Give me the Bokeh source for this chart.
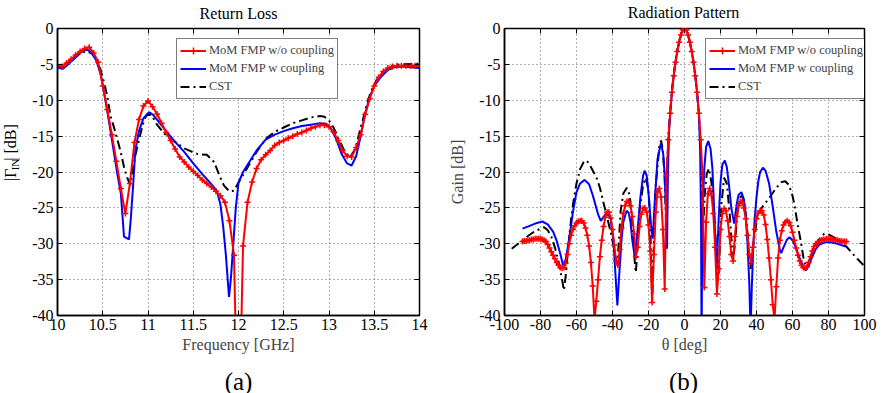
import math
from bokeh.plotting import figure
from bokeh.models import Legend, LegendItem, FixedTicker, Range1d, LinearAxis
from bokeh.core.properties import value
from bokeh.layouts import row, column
from bokeh.embed import file_html
from bokeh.resources import INLINE

FONT = "Liberation Serif"

# ---------------- (a) Return Loss ----------------
rl_x_ticks = [10, 10.5, 11, 11.5, 12, 12.5, 13, 13.5, 14]
rl_x_labels = ["10", "10.5", "11", "11.5", "12", "12.5", "13", "13.5", "14"]
db_ticks = [-40, -35, -30, -25, -20, -15, -10, -5, 0]
db_labels = ["-40", "-35", "-30", "-25", "-20", "-15", "-10", "-5", "0"]

rl_freq_red = [10.00, 10.05, 10.10, 10.15, 10.20, 10.25, 10.30, 10.35, 10.40, 10.45,
               10.50, 10.55, 10.60, 10.65, 10.70, 10.75, 10.80, 10.85, 10.90, 10.95,
               11.00, 11.05, 11.10, 11.15, 11.20, 11.25, 11.30, 11.35, 11.40, 11.45,
               11.50, 11.55, 11.60, 11.65, 11.70, 11.75, 11.80, 11.85, 11.90, 11.95,
               12.00, 12.05, 12.10, 12.15, 12.20, 12.25, 12.30, 12.35, 12.40, 12.45,
               12.50, 12.55, 12.60, 12.65, 12.70, 12.75, 12.80, 12.85, 12.90, 12.95,
               13.00, 13.05, 13.10, 13.15, 13.20, 13.25, 13.30, 13.35, 13.40, 13.45,
               13.50, 13.55, 13.60, 13.65, 13.70, 13.75, 13.80, 13.85, 13.90, 13.95,
               14.00]
rl_red = [-5.2, -5.3, -4.8, -4.3, -3.7, -3.2, -2.8, -2.6, -3.4, -4.7,
          -8.0, -11.3, -14.8, -18.5, -22.3, -25.8, -21.6, -15.9, -12.7, -10.8,
          -10.1, -10.9, -11.9, -13.2, -14.5, -15.6, -16.8, -17.9, -18.6, -19.3,
          -19.9, -20.5, -21.1, -21.6, -22.1, -22.7, -23.3, -24.2, -26.8, -31.6,
          -60.0, -30.3, -24.2, -21.4, -19.5, -18.3, -17.6, -17.0, -16.3, -15.9,
          -15.6, -15.3, -15.0, -14.7, -14.5, -14.2, -13.9, -13.7, -13.5, -13.5,
          -13.7, -14.4, -15.6, -17.0, -17.8, -17.9, -16.6, -14.8, -12.0, -9.8,
          -8.0, -6.8, -6.0, -5.5, -5.3, -5.2, -5.2, -5.2, -5.2, -5.2,
          -5.2]

rl_freq_blue = [10.00, 10.05, 10.10, 10.15, 10.20, 10.25, 10.30, 10.33, 10.38, 10.43,
                10.48, 10.53, 10.58, 10.63, 10.66, 10.70, 10.735, 10.79, 10.81, 10.835,
                10.86, 10.90, 10.95, 11.00, 11.02, 11.06, 11.10, 11.20, 11.30, 11.40,
                11.50, 11.60, 11.70, 11.76, 11.80, 11.83, 11.86, 11.895, 11.915, 11.94,
                11.97, 12.00, 12.05, 12.10, 12.20, 12.30, 12.40, 12.50, 12.60, 12.70,
                12.80, 12.90, 12.97, 13.02, 13.08, 13.14, 13.20, 13.25, 13.30, 13.35,
                13.40, 13.45, 13.50, 13.57, 13.65, 13.72, 13.80, 14.00]
rl_blue = [-5.4, -5.6, -5.2, -4.6, -4.0, -3.4, -3.0, -2.95, -3.4, -4.5,
           -6.5, -10.0, -13.8, -17.8, -20.2, -23.0, -29.0, -29.4, -26.5, -22.0,
           -17.0, -14.3, -12.5, -11.8, -11.7, -12.1, -12.7, -14.3, -15.8, -17.2,
           -18.8, -20.3, -21.7, -22.6, -24.5, -27.5, -31.5, -37.4, -35.0, -30.5,
           -25.0, -21.5, -20.0, -19.0, -17.0, -15.5, -14.8, -14.3, -13.9, -13.6,
           -13.4, -13.2, -13.3, -13.9, -15.4, -17.5, -18.8, -19.1, -17.8, -15.0,
           -11.8, -9.6, -8.0, -6.8, -5.8, -5.4, -5.3, -5.5]

rl_freq_cst = [10.00, 10.06, 10.15, 10.20, 10.25, 10.32, 10.38, 10.43, 10.475, 10.52,
               10.55, 10.585, 10.62, 10.66, 10.70, 10.74, 10.77, 10.805, 10.835, 10.86,
               10.92, 10.96, 11.00, 11.04, 11.10, 11.175, 11.25, 11.32, 11.40, 11.47,
               11.55, 11.65, 11.73, 11.80, 11.84, 11.90, 11.95, 12.02, 12.08, 12.13,
               12.20, 12.30, 12.40, 12.50, 12.60, 12.70, 12.80, 12.90, 12.95, 13.00,
               13.05, 13.10, 13.16, 13.23, 13.28, 13.31, 13.35, 13.385, 13.42, 13.46,
               13.52, 13.57, 13.65, 13.72, 13.80, 14.00]
rl_cst = [-5.3, -5.6, -4.6, -4.0, -3.5, -3.15, -3.5, -4.3, -5.7, -7.8,
          -9.4, -12.2, -13.6, -15.4, -17.3, -19.6, -20.8, -21.8, -19.5, -17.7,
          -14.5, -12.6, -11.9, -12.1, -13.4, -14.6, -15.4, -16.0, -16.7, -17.1,
          -17.5, -17.6, -18.6, -20.8, -21.9, -22.7, -22.6, -21.0, -19.8, -18.7,
          -17.2, -15.4, -14.4, -13.8, -13.2, -12.8, -12.4, -12.2, -12.3, -12.8,
          -13.8, -15.2, -16.8, -18.0, -17.0, -15.9, -13.8, -12.2, -10.5, -8.9,
          -7.3, -6.4, -5.6, -5.1, -5.0, -4.9]

# ---------------- (b) Radiation Pattern ----------------
rp_x_ticks = [-100, -80, -60, -40, -20, 0, 20, 40, 60, 80, 100]
rp_x_labels = ["-100", "-80", "-60", "-40", "-20", "0", "20", "40", "60", "80", "100"]

rp_theta_red = list(range(-90, 91))  # 1 degree sampling of the plotted points
rp_red = [-29.7, -29.6, -29.6, -29.5, -29.5, -29.4, -29.4, -29.3, -29.3, -29.3,   # -90..-81
          -29.3, -29.4, -29.5, -29.7, -30.1, -30.6, -31.1, -31.6, -32.1, -32.6,   # -80..-71
          -33.0, -33.3, -33.4, -33.3, -32.7, -31.5, -30.0, -28.8, -28.0, -27.5,   # -70..-61
          -27.1, -26.9, -26.8, -26.8, -27.1, -27.8, -28.8, -30.3, -32.6, -35.9,   # -60..-51
          -40.5, -38.0, -35.0, -31.8, -29.5, -27.6, -26.3, -25.6, -25.6, -26.4,   # -50..-41
          -28.0, -30.2, -32.4, -33.0, -30.8, -27.8, -25.8, -24.7, -24.1, -24.1,   # -40..-31
          -24.7, -26.2, -28.6, -31.8, -30.5, -27.6, -25.9, -25.1, -25.0, -25.6,   # -30..-21
          -27.4, -31.0, -38.2, -31.5, -25.6, -22.8, -22.3, -23.5, -28.0, -36.3,   # -20..-11
          -20.5, -15.5, -11.8, -8.9, -6.6, -4.7, -3.2, -1.9, -0.9, -0.2,          # -10..-1
          0.0,                                                                     # 0
          -0.2, -0.9, -1.9, -3.2, -4.7, -6.6, -8.9, -11.8, -15.5, -20.5,          # 1..10
          -36.1, -27.0, -23.0, -22.3, -23.2, -25.8, -30.5, -37.0, -33.5, -28.0,   # 11..20
          -25.8, -25.1, -25.4, -26.8, -29.0, -31.5, -32.4, -29.0, -26.2, -24.7,   # 21..30
          -24.1, -24.2, -25.0, -26.5, -28.8, -31.5, -32.6, -30.5, -28.0, -26.5,   # 31..40
          -25.7, -25.4, -25.4, -26.0, -27.3, -29.4, -32.0, -35.0, -38.5, -40.5,   # 41..50
          -36.0, -32.0, -29.5, -28.2, -27.4, -27.0, -26.8, -27.0, -27.5, -28.4,   # 51..60
          -29.5, -30.6, -31.6, -32.4, -33.0, -33.3, -33.4, -33.2, -32.6, -31.8,   # 61..70
          -31.0, -30.4, -30.0, -29.8, -29.6, -29.5, -29.4, -29.4, -29.3, -29.3,   # 71..80
          -29.3, -29.4, -29.4, -29.5, -29.5, -29.6, -29.6, -29.7, -29.7, -29.7]   # 81..90

rp_theta_blue = [-90, -86, -82, -79, -76, -73, -71, -69, -67.5, -66,
                 -64, -62, -60, -58, -55.5, -53, -51, -49, -48, -46.5,
                 -45, -43, -41, -39.5, -38.3, -37.3, -36.3, -35, -34, -32.2,
                 -31, -30, -29, -27.6, -26, -24.5, -23, -22.1, -21, -19.8,
                 -18.6, -17.7, -16.5, -15, -13.1, -11.8, -11, -10.3, -9.7, -9.2,
                 -8.5, -8, -7, -6, -5, -4, -3, -2, -1, 0,
                 1, 2, 3, 4, 5, 6, 7, 8, 8.7, 9.2,
                 9.5, 9.8, 10.3, 11, 12, 13.2, 14.5, 15.5, 16.5, 17.8,
                 19, 20, 21, 22.4, 23.5, 24.8, 26, 27.6, 29, 30,
                 31.6, 33, 34, 35, 36, 36.7, 37.4, 38.2, 39, 40,
                 41, 42, 43.6, 45, 47, 49, 51, 53, 53.7, 55,
                 57, 58.3, 60, 62, 64, 66, 67.5, 69, 71, 73,
                 75, 78, 81, 85, 89.5]
rp_blue = [-27.9, -27.5, -27.1, -26.9, -27.3, -28.3, -29.6, -31.4, -33.0, -32.2,
           -29.3, -25.6, -22.8, -21.6, -21.1, -21.7, -23.2, -25.0, -25.9, -26.8,
           -26.3, -25.5, -26.6, -29.5, -34.5, -38.6, -34.5, -29.5, -27.0, -25.4,
           -25.7, -27.0, -29.5, -31.9, -28.0, -23.5, -20.5, -19.8, -20.5, -23.5,
           -27.5, -29.3, -24.0, -18.2, -16.0, -17.5, -20.5, -25.5, -30.7, -20.0,
           -14.0, -12.2, -8.9, -6.6, -4.7, -3.2, -1.9, -0.9, -0.2, 0.0,
           -0.2, -0.9, -1.9, -3.2, -4.7, -6.6, -8.9, -12.0, -17.0, -27.0,
           -45.0, -30.0, -24.0, -19.5, -16.5, -15.7, -16.8, -19.5, -25.5, -33.7,
           -26.5, -21.5, -19.0, -18.4, -19.3, -22.0, -25.0, -27.2, -24.5, -23.2,
           -22.8, -23.8, -26.0, -30.0, -35.5, -42.0, -36.0, -30.5, -26.5, -23.5,
           -21.3, -20.0, -19.4, -19.8, -21.6, -24.8, -28.3, -30.9, -31.3, -30.5,
           -29.4, -29.1, -29.5, -30.6, -32.0, -33.2, -33.7, -33.1, -31.8, -30.7,
           -30.1, -29.8, -29.8, -30.0, -30.4]

rp_theta_cst = [-96, -92, -88, -84, -80, -78, -76, -74, -72, -70,
                -68, -67, -66, -65, -64, -63, -62, -60, -58, -56,
                -54.5, -53, -51, -49, -47, -45, -43, -41, -39, -37.5,
                -36.5, -35.5, -34, -32, -30.5, -29, -27.5, -27, -26, -25,
                -23, -21.5, -20, -19, -18, -17, -16, -14, -13, -12,
                -11, -10.3, -9.6, -9, -8, -7, -6, -5, -4, -3,
                -2, -1, 0, 1, 2, 3, 4, 5, 6, 7,
                8, 9, 9.8, 10.5, 11.3, 12.3, 13.6, 15, 16.5, 18,
                18.7, 19.5, 20.5, 22, 23.5, 25, 26, 27, 28, 29.5,
                31, 32, 33.5, 35, 36.7, 38, 40, 42.6, 45, 48,
                51, 54, 56, 58, 60, 61, 63, 64.7, 66.5, 67.5,
                69, 72, 75, 77.6, 80, 85, 90, 96, 99.5]
rp_cst = [-30.7, -29.9, -29.1, -28.4, -27.9, -27.7, -28.1, -29.0, -30.5, -32.5,
          -35.0, -36.5, -34.5, -31.6, -29.0, -26.6, -24.6, -21.6, -19.6, -18.6,
          -18.4, -18.8, -19.8, -20.7, -22.2, -24.3, -26.3, -28.4, -30.8, -32.8,
          -30.0, -25.5, -23.0, -22.2, -23.2, -27.0, -33.0, -34.0, -30.0, -25.5,
          -21.8, -20.8, -22.5, -27.5, -38.2, -30.0, -22.0, -16.5, -15.6, -17.0,
          -21.0, -26.5, -19.5, -15.0, -11.8, -8.7, -6.4, -4.6, -3.1, -1.8,
          -0.8, -0.2, 0.0, -0.2, -0.9, -1.9, -3.2, -4.7, -6.6, -8.9,
          -12.0, -17.0, -23.0, -27.0, -23.0, -20.3, -19.5, -21.5, -26.0, -32.5,
          -35.4, -31.0, -24.5, -20.8, -21.6, -25.5, -29.0, -32.6, -30.0, -25.5,
          -23.5, -23.3, -24.5, -28.5, -33.5, -30.5, -27.0, -25.1, -24.3, -23.3,
          -22.2, -21.4, -21.3, -21.8, -23.3, -24.5, -27.5, -29.8, -32.6, -33.0,
          -32.5, -30.7, -29.3, -28.6, -28.7, -29.4, -30.4, -32.1, -33.0]

legend_labels = ["MoM FMP w/o coupling", "MoM FMP w coupling", "CST"]
titles = ["Return Loss", "Radiation Pattern"]
ylabel_parts = ["|Γ", "IN", "| [dB]"]      # |Γ_IN| [dB] with subscript IN
captions = ["(a)", "(b)"]

RED = "#ff0000"
BLUE = "#0000ff"
BLACK = "#000000"
CST_DASH = "9 4 2 4"

W, H = 892, 393
TITLE_H = 21          # strip holding the two panel titles
CAP_H = 24            # strip holding (a) and (b)
MID_H = H - TITLE_H - CAP_H
YB = H - CAP_H        # page y of the bottom of the plot row
FRAME_TOP, FRAME_BOTTOM = 28, 315


def style(p, xticks, xlabels):
    p.outline_line_color = "black"
    p.outline_line_width = 1.5
    p.outline_line_alpha = 1
    xb = p.below[0]
    yl = p.left[0]
    xb.ticker = FixedTicker(ticks=xticks)
    xb.major_label_overrides = {t: s for t, s in zip(xticks, xlabels)}
    yl.ticker = FixedTicker(ticks=db_ticks)
    yl.major_label_overrides = {t: s for t, s in zip(db_ticks, db_labels)}
    for ax in (xb, yl):
        ax.major_label_text_font = FONT
        ax.major_label_text_font_size = "16px"
        ax.major_label_text_color = "black"
        ax.axis_label_text_font = FONT
        ax.axis_label_text_font_size = "16px"
        ax.axis_label_text_font_style = "normal"
        ax.axis_line_color = "black"
        ax.axis_line_width = 1.5
        ax.major_tick_in = 5
        ax.major_tick_out = 0
        ax.major_tick_line_color = "black"
        ax.minor_tick_line_color = None
        ax.major_label_standoff = 4
    # mirrored inward ticks on top and right (box style), labels not drawn
    for side, ticks in (("above", xticks), ("right", db_ticks)):
        ax = LinearAxis(ticker=FixedTicker(ticks=ticks), major_label_text_font_size="1px",
                        major_label_text_color=None, major_label_standoff=0,
                        axis_line_color=None, major_tick_in=5, major_tick_out=0,
                        major_tick_line_color="black", minor_tick_line_color=None)
        p.add_layout(ax, side)
    p.grid.grid_line_color = "#404040"
    p.grid.grid_line_dash = "1 3"
    p.grid.grid_line_alpha = 0.8
    p.grid.grid_line_width = 1
    return xb, yl


def add_legend(p, items, loc):
    leg = Legend(items=items, location=loc)
    leg.label_text_font = FONT
    leg.label_text_font_size = "12.5px"
    leg.label_height = 17
    leg.glyph_height = 17
    leg.glyph_width = 26
    leg.label_standoff = 3
    leg.spacing = 1
    leg.padding = 3
    leg.margin = 0
    leg.border_line_color = "black"
    leg.border_line_width = 1.5
    leg.background_fill_color = "white"
    leg.background_fill_alpha = 1
    p.add_layout(leg)


def blank(width, height):
    f = figure(width=width, height=height, output_backend="svg", toolbar_location=None,
               x_range=Range1d(0, width), y_range=Range1d(0, height),
               x_axis_type=None, y_axis_type=None, min_border=0)
    f.grid.visible = False
    f.outline_line_color = None
    return f


# ---- title strip (text centres at page y 13 and 12)
ttl = blank(W, TITLE_H)
ttl.text(x=[238, 683], y=[TITLE_H - 13, TITLE_H - 12], text=titles,
         text_font=value(FONT), text_font_size="16px",
         text_align="center", text_baseline="middle", text_color="black")

# ---- y label strip for panel (a)   (page y -> strip y: YB - py)
ylab = blank(20, MID_H)
ylab.text(x=[10, 14, 10], y=[YB - 206, YB - 193, YB - 181.4], text=ylabel_parts,
          angle=math.pi / 2, text_font=value(FONT),
          text_font_size=["16px", "11px", "16px"],
          text_align="left", text_baseline="middle", text_color="black")

# ---- left figure: frame x 57..419
p1 = figure(width=426, height=MID_H, output_backend="svg", toolbar_location=None,
            x_range=Range1d(10, 14), y_range=Range1d(-40, 0),
            min_border_left=37, min_border_right=27,
            min_border_top=FRAME_TOP - TITLE_H, min_border_bottom=YB - FRAME_BOTTOM)
xb1, yl1 = style(p1, rl_x_ticks, rl_x_labels)
xb1.axis_label = "Frequency [GHz]"
xb1.axis_label_standoff = 3
xb1.major_label_standoff = 3

r1c = p1.line(rl_freq_cst, rl_cst, line_color=BLACK, line_width=2, line_dash=CST_DASH)
r1b = p1.line(rl_freq_blue, rl_blue, line_color=BLUE, line_width=2)
r1r = p1.line(rl_freq_red, rl_red, line_color=RED, line_width=2)
r1m = p1.scatter(rl_freq_red, rl_red, marker="cross", size=6, line_color=RED, line_width=1.5)

add_legend(p1, [LegendItem(label=legend_labels[0], renderers=[r1r, r1m]),
                LegendItem(label=legend_labels[1], renderers=[r1b]),
                LegendItem(label=legend_labels[2], renderers=[r1c])], (119, 216))

# ---- right figure: frame x 502..864
p2 = figure(width=446, height=MID_H, output_backend="svg", toolbar_location=None,
            x_range=Range1d(-100, 100), y_range=Range1d(-40, 0),
            min_border_left=56, min_border_right=28,
            min_border_top=FRAME_TOP - TITLE_H, min_border_bottom=YB - FRAME_BOTTOM)
xb2, yl2 = style(p2, rp_x_ticks, rp_x_labels)
xb2.axis_label = "θ [deg]"
xb2.axis_label_standoff = 3
xb2.major_label_standoff = 3
yl2.axis_label = "Gain [dB]"
yl2.axis_label_standoff = 10

r2c = p2.line(rp_theta_cst, rp_cst, line_color=BLACK, line_width=2, line_dash=CST_DASH)
r2b = p2.line(rp_theta_blue, rp_blue, line_color=BLUE, line_width=2)
r2r = p2.line(rp_theta_red, rp_red, line_color=RED, line_width=2)
r2m = p2.scatter(rp_theta_red, rp_red, marker="cross", size=6, line_color=RED, line_width=1.5)

add_legend(p2, [LegendItem(label=legend_labels[0], renderers=[r2r, r2m]),
                LegendItem(label=legend_labels[1], renderers=[r2b]),
                LegendItem(label=legend_labels[2], renderers=[r2c])], (201, 216))

# ---- caption strip with (a) and (b)
cap = blank(W, CAP_H)
cap.text(x=[238, 683], y=[12.5, 12.5], text=captions,
         text_font=value(FONT), text_font_size="25px",
         text_align="center", text_baseline="middle", text_color="black")

layout = column(ttl, row(ylab, p1, p2), cap)
open("out.html", "w").write(file_html(layout, INLINE))
